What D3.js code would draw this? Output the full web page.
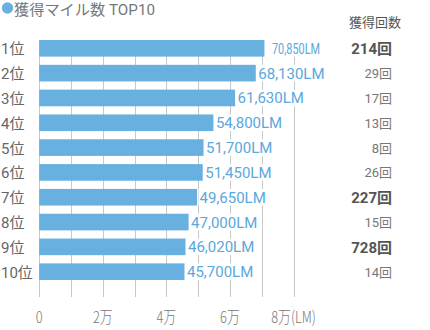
<!DOCTYPE html>
<html><head><meta charset="utf-8">
<script src="https://cdn.jsdelivr.net/npm/d3@7"></script>
<style>
html,body{margin:0;padding:0;background:#fff;}
svg{display:block;}
</style></head>
<body>
<svg id="chart" width="430" height="330"></svg>
<script>
const ranks = ["1位","2位","3位","4位","5位","6位","7位","8位","9位","10位"];
const miles = [70850,68130,61630,54800,51700,51450,49650,47000,46020,45700];
const counts = [214,29,17,13,8,26,227,15,728,14];
const highlighted = [true,false,false,false,false,false,true,false,true,false];
const tickValues = [0,20000,40000,60000,80000];
const tickLabels = ["0","2万","4万","6万","8万(LM)"];
const gridValues = [0,10000,20000,30000,40000,50000,60000,70000,80000];
const title = "獲得マイル数 TOP10";
const countHeader = "獲得回数";

const blue = "#67b0df", textBlue = "#5aa8dc";
const jp = "'Noto Sans CJK JP','Noto Sans',sans-serif";
const num = "Roboto,'Noto Sans CJK JP',sans-serif";

const svg = d3.select("#chart");
const x = d3.scaleLinear().domain([0,80000]).range([39.2,293.5]);
const y = d3.scaleBand().domain(ranks).range([40,280]).paddingInner(0.33).paddingOuter(0);

// title
svg.append("circle").attr("cx",7.5).attr("cy",8).attr("r",5.7).attr("fill",blue);
const tt = svg.append("text").attr("x",14).attr("y",14.5).attr("font-family",num).attr("font-size",15)
  .attr("fill","#777").text(title);
tt.attr("textLength",141).attr("lengthAdjust","spacingAndGlyphs");

// header of counts
svg.append("text").attr("x",375).attr("y",27).attr("text-anchor","middle")
  .attr("font-family",jp).attr("font-size",13).attr("fill","#555").text(countHeader);

// grid lines
svg.append("g").selectAll("line").data(gridValues).join("line")
  .attr("x1",d=>Math.round(x(d))+0.5).attr("x2",d=>Math.round(x(d))+0.5)
  .attr("y1",40).attr("y2",297).attr("stroke","#c8c8c8").attr("stroke-width",1);

// bars
svg.append("g").selectAll("rect").data(miles).join("rect")
  .attr("x",x(0)).attr("y",(d,i)=>y(ranks[i]))
  .attr("width",d=>x(d)-x(0)).attr("height",y.bandwidth()).attr("fill",blue);

// rank labels
svg.append("g").selectAll("text").data(ranks).join("text")
  .attr("x",1).attr("y",d=>y(d)+y.bandwidth()/2+6)
  .attr("font-family",num).attr("font-size",15).attr("fill","#666").text(d=>d);

// value labels with white background
const fmt = d3.format(",");
const maxRight = 325;
const vg = svg.append("g");
miles.forEach((v,i)=>{
  const g = vg.append("g");
  const bg = g.append("rect").attr("fill","#fff");
  const t = g.append("text").attr("font-family",num).attr("font-size",15)
    .attr("fill",textBlue).attr("y",y(ranks[i])+y.bandwidth()/2+5.5)
    .text(fmt(v)+"LM");
  let tx = x(v)+2.5;
  let w = t.node().getComputedTextLength();
  if (tx + w > maxRight) {
    const nw = 48;
    tx = 320 - nw;
    t.attr("textLength",nw).attr("lengthAdjust","spacingAndGlyphs");
    w = nw;
  }
  t.attr("x",tx);
  bg.attr("x",tx-1).attr("y",y(ranks[i])).attr("width",w+2).attr("height",y.bandwidth());
});

// counts
svg.append("g").selectAll("text").data(counts).join("text")
  .attr("x",392).attr("y",(d,i)=>y(ranks[i])+y.bandwidth()/2+(highlighted[i]?6:5))
  .attr("text-anchor","end").attr("font-family",num)
  .attr("font-size",(d,i)=>highlighted[i]?15:13)
  .attr("font-weight",(d,i)=>highlighted[i]?"bold":"normal")
  .attr("fill",(d,i)=>highlighted[i]?"#555":"#777")
  .text(d=>d+"回");

// x tick labels (condensed)
const tg = svg.append("g").selectAll("g").data(tickValues).join("g")
  .attr("transform",d=>`translate(${x(d)},323) scale(0.78,1)`);
tg.append("text").attr("text-anchor","middle").attr("font-family",jp)
  .attr("font-size",16.5).attr("font-weight",300).attr("fill","#777")
  .text((d,i)=>tickLabels[i]);
</script>
</body></html>
